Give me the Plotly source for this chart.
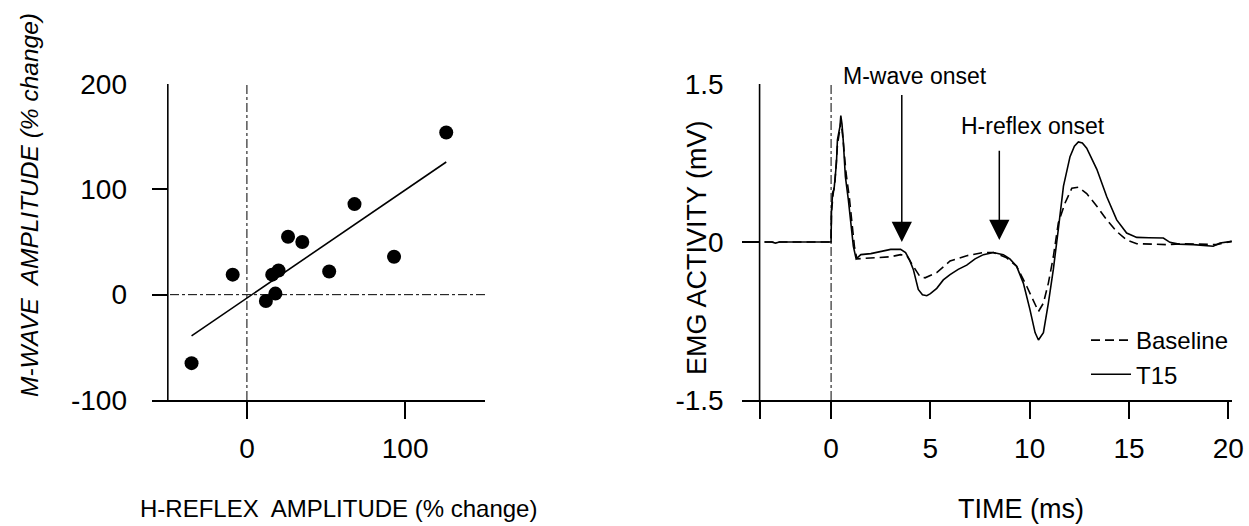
import plotly.graph_objects as go
import numpy as np

# ---------------- data: left panel (scatter) ----------------
h_reflex_change = [-35, -9, 12, 18, 16, 20, 26, 35, 52, 68, 93, 126]
m_wave_change = [-65, 19, -6, 1, 19, 23, 55, 50, 22, 86, 36, 154]

# ---------------- data: right panel (EMG traces) ----------------
time_t15 = [-3.35, -3.0, -2.8, -2.6, -1.5, -0.5, 0.0, 0.02, 0.08, 0.15, 0.2, 0.27, 0.32,
            0.45, 0.49, 0.55, 0.61, 0.72, 0.87, 1.04, 1.12, 1.26, 1.5, 2.0, 2.5, 3.0,
            3.5, 3.75, 3.95, 4.14, 4.39, 4.6, 4.82, 5.0, 5.32, 5.65, 5.99, 6.4, 6.83,
            7.25, 7.67, 8.17, 8.67, 9.0, 9.34, 9.68, 10.01, 10.27, 10.44, 10.69, 10.94,
            11.19, 11.44, 11.70, 12.03, 12.25, 12.45, 12.65, 12.87, 13.38, 13.88, 14.38,
            14.88, 15.39, 16.0, 16.73, 17.06, 17.5, 18.24, 19.24, 19.58, 20.17]
emg_t15 = [0.0, 0.0, -0.01, 0.0, 0.0, 0.0, 0.0, 0.30, 0.47, 0.50, 0.62, 0.75, 0.97,
           1.10, 1.20, 1.12, 0.97, 0.62, 0.40, 0.085, -0.04, -0.16, -0.12, -0.11, -0.09, -0.07,
           -0.07, -0.10, -0.17, -0.26, -0.45, -0.50, -0.51, -0.49, -0.44, -0.36, -0.31, -0.26, -0.22,
           -0.16, -0.12, -0.10, -0.12, -0.16, -0.23, -0.39, -0.64, -0.86, -0.93, -0.86, -0.58,
           -0.26, 0.12, 0.53, 0.81, 0.91, 0.95, 0.94, 0.89, 0.69, 0.43, 0.21,
           0.085, 0.044, 0.04, 0.038, -0.003, -0.02, -0.025, -0.04, -0.01, 0.006]

time_base = [-3.35, -2.5, -1.5, -0.5, 0.0, 0.02, 0.1, 0.2, 0.32, 0.45, 0.5, 0.6, 0.75,
             0.92, 1.08, 1.18, 1.3, 2.0, 3.0, 3.5, 3.81, 4.14, 4.48, 4.73, 5.0, 5.32,
             5.99, 6.83, 7.67, 8.17, 8.84, 9.34, 9.85, 10.19, 10.44, 10.69, 10.94, 11.19,
             11.44, 11.78, 12.12, 12.45, 12.87, 13.38, 13.88, 14.38, 14.88, 15.39, 16.9,
             17.7, 19.4, 20.17]
emg_base = [0.0, 0.0, 0.0, 0.0, 0.0, 0.28, 0.45, 0.58, 0.92, 1.08, 1.15, 0.98, 0.66,
            0.42, 0.10, -0.05, -0.16, -0.15, -0.14, -0.12, -0.13, -0.23, -0.33, -0.34, -0.32, -0.29,
            -0.18, -0.13, -0.10, -0.10, -0.15, -0.23, -0.42, -0.55, -0.66, -0.58, -0.39, -0.14,
            0.18, 0.37, 0.51, 0.52, 0.46, 0.34, 0.21, 0.10, 0.02, -0.016, -0.025,
            -0.016, -0.025, 0.006]

series_names = ["Baseline", "T15"]

# tick labels
left_x_ticks = [0, 100]
left_y_ticks = [-100, 0, 100, 200]
left_y_ticktext = ["-100", "0", "100", "200"]
right_x_ticks = [-3.6, 0, 5, 10, 15, 20]
right_x_ticktext = ["", "0", "5", "10", "15", "20"]
right_y_ticks = [-1.5, 0, 1.5]
right_y_ticktext = ["-1.5", "0", "1.5"]

# axis ranges
LX_RANGE = [-60, 150.5]
LY_RANGE = [-100, 200]
RX_RANGE = [-4.5, 20.2]
RY_RANGE = [-1.5, 1.5]
LEFT_YAXIS_AT = -50
RIGHT_YAXIS_AT = -3.6

# onset arrows (time, tip, tail)
onset_labels = ["M-wave onset", "H-reflex onset"]
onset_time = [3.56, 8.47]
onset_tip = [0.0, 0.02]
onset_tail = [1.41, 0.88]

W, H = 1249, 526
FONT = "Liberation Sans, Arial, sans-serif"
BLACK = "#000000"


def px_x(p):
    return p / W


def px_y(p):
    return 1 - p / H


fig = go.Figure()

# regression line from the scatter data
slope, intercept = np.polyfit(h_reflex_change, m_wave_change, 1)
fit_x = np.array([min(h_reflex_change), max(h_reflex_change)])
fit_y = slope * fit_x + intercept

fig.add_trace(go.Scatter(x=fit_x, y=fit_y, mode="lines",
                         line=dict(color=BLACK, width=1.6),
                         showlegend=False, xaxis="x", yaxis="y", hoverinfo="skip"))
fig.add_trace(go.Scatter(x=h_reflex_change, y=m_wave_change, mode="markers",
                         marker=dict(color=BLACK, size=14),
                         showlegend=False, xaxis="x", yaxis="y"))

fig.add_trace(go.Scatter(x=time_base, y=emg_base, mode="lines", name=series_names[0],
                         line=dict(color=BLACK, width=1.6, dash="9px,5px"),
                         xaxis="x2", yaxis="y2"))
fig.add_trace(go.Scatter(x=time_t15, y=emg_t15, mode="lines", name=series_names[1],
                         line=dict(color=BLACK, width=1.6),
                         xaxis="x2", yaxis="y2"))

shapes = []
# left panel: y-axis line, zero reference lines
shapes.append(dict(type="line", xref="x", yref="y", x0=LEFT_YAXIS_AT, x1=LEFT_YAXIS_AT,
                   y0=LY_RANGE[0], y1=LY_RANGE[1], line=dict(color=BLACK, width=1.6)))
shapes.append(dict(type="line", xref="x", yref="y", x0=0, x1=0,
                   y0=LY_RANGE[0], y1=LY_RANGE[1], line=dict(color=BLACK, width=1, dash="dashdot")))
shapes.append(dict(type="line", xref="x", yref="y", x0=LX_RANGE[0], x1=LX_RANGE[1],
                   y0=0, y1=0, line=dict(color=BLACK, width=1, dash="dashdot")))
# right panel: y-axis line, stimulus line
shapes.append(dict(type="line", xref="x2", yref="y2", x0=RIGHT_YAXIS_AT, x1=RIGHT_YAXIS_AT,
                   y0=RY_RANGE[0], y1=RY_RANGE[1], line=dict(color=BLACK, width=1.6)))
shapes.append(dict(type="line", xref="x2", yref="y2", x0=0, x1=0,
                   y0=RY_RANGE[0], y1=RY_RANGE[1], line=dict(color=BLACK, width=1, dash="dashdot")))

annotations = []
# onset arrows
for t, tip, tail in zip(onset_time, onset_tip, onset_tail):
    annotations.append(dict(x=t, y=tip, ax=t, ay=tail, xref="x2", yref="y2",
                            axref="x2", ayref="y2", text="", showarrow=True,
                            arrowhead=2, arrowsize=2.7, arrowwidth=1.5, arrowcolor=BLACK,
                            standoff=0, startstandoff=0))
# onset labels (placed in page pixels above the traces)
label_px = [(915, 76), (1033, 126)]
for lab, (lx, ly) in zip(onset_labels, label_px):
    annotations.append(dict(x=px_x(lx), y=px_y(ly), xref="paper", yref="paper", text=lab,
                            showarrow=False, xanchor="center", yanchor="middle",
                            font=dict(family=FONT, size=23, color=BLACK)))

# axis titles
annotations.append(dict(x=px_x(338), y=px_y(508), xref="paper", yref="paper",
                        text="H-REFLEX\u00a0 AMPLITUDE (% change)", showarrow=False,
                        xanchor="center", yanchor="middle",
                        font=dict(family=FONT, size=24, color=BLACK)))
annotations.append(dict(x=px_x(29), y=px_y(205), xref="paper", yref="paper",
                        text="<i>M-WAVE\u00a0 AMPLITUDE (% change)</i>", showarrow=False,
                        textangle=-90, xanchor="center", yanchor="middle",
                        font=dict(family=FONT, size=24.5, color=BLACK)))
annotations.append(dict(x=px_x(1021), y=px_y(509), xref="paper", yref="paper",
                        text="TIME (ms)", showarrow=False,
                        xanchor="center", yanchor="middle",
                        font=dict(family=FONT, size=27, color=BLACK)))
annotations.append(dict(x=px_x(697), y=px_y(248), xref="paper", yref="paper",
                        text="EMG ACTIVITY (mV)", showarrow=False,
                        textangle=-90, xanchor="center", yanchor="middle",
                        font=dict(family=FONT, size=27, color=BLACK)))

tickfont = dict(family=FONT, size=28, color=BLACK)
ydom = [px_y(400), px_y(84)]

fig.update_layout(
    width=W, height=H,
    margin=dict(l=0, r=0, t=0, b=0, pad=0, autoexpand=False),
    paper_bgcolor="white", plot_bgcolor="white",
    font=dict(family=FONT, color=BLACK),
    showlegend=True,
    legend=dict(x=px_x(1086), y=px_y(318), xanchor="left", yanchor="top",
                bgcolor="rgba(0,0,0,0)", borderwidth=0,
                font=dict(family=FONT, size=24, color=BLACK), itemwidth=40),
    xaxis=dict(domain=[px_x(152), px_x(485)], range=LX_RANGE, anchor="y",
               showline=True, linecolor=BLACK, linewidth=1.6, mirror=False,
               ticks="outside", ticklen=17, tickwidth=1.6, tickcolor=BLACK,
               tickvals=left_x_ticks, tickfont=tickfont, ticklabelstandoff=6,
               showgrid=False, zeroline=False, automargin=False),
    yaxis=dict(domain=ydom, range=LY_RANGE, anchor="x",
               showline=False, ticks="inside", ticklen=16, tickwidth=1.6, tickcolor=BLACK,
               tickvals=left_y_ticks, ticktext=left_y_ticktext, tickfont=tickfont,
               ticklabelstandoff=24, showgrid=False, zeroline=False, automargin=False),
    xaxis2=dict(domain=[px_x(741.7), px_x(1232.3)], range=RX_RANGE, anchor="y2",
                showline=True, linecolor=BLACK, linewidth=1.6,
                ticks="outside", ticklen=17, tickwidth=1.6, tickcolor=BLACK,
                tickvals=right_x_ticks, ticktext=right_x_ticktext, tickfont=tickfont,
                ticklabelstandoff=6, showgrid=False, zeroline=False, automargin=False),
    yaxis2=dict(domain=ydom, range=RY_RANGE, anchor="x2",
                showline=False, ticks="inside", ticklen=18, tickwidth=1.6, tickcolor=BLACK,
                tickvals=right_y_ticks, ticktext=right_y_ticktext, tickfont=tickfont,
                ticklabelstandoff=17, showgrid=False, zeroline=False, automargin=False),
    shapes=shapes,
    annotations=annotations,
)

fig.write_html("out.html",
               config={"displayModeBar": False},
               post_script="document.body.style.margin='0';document.body.style.overflow='hidden';")
